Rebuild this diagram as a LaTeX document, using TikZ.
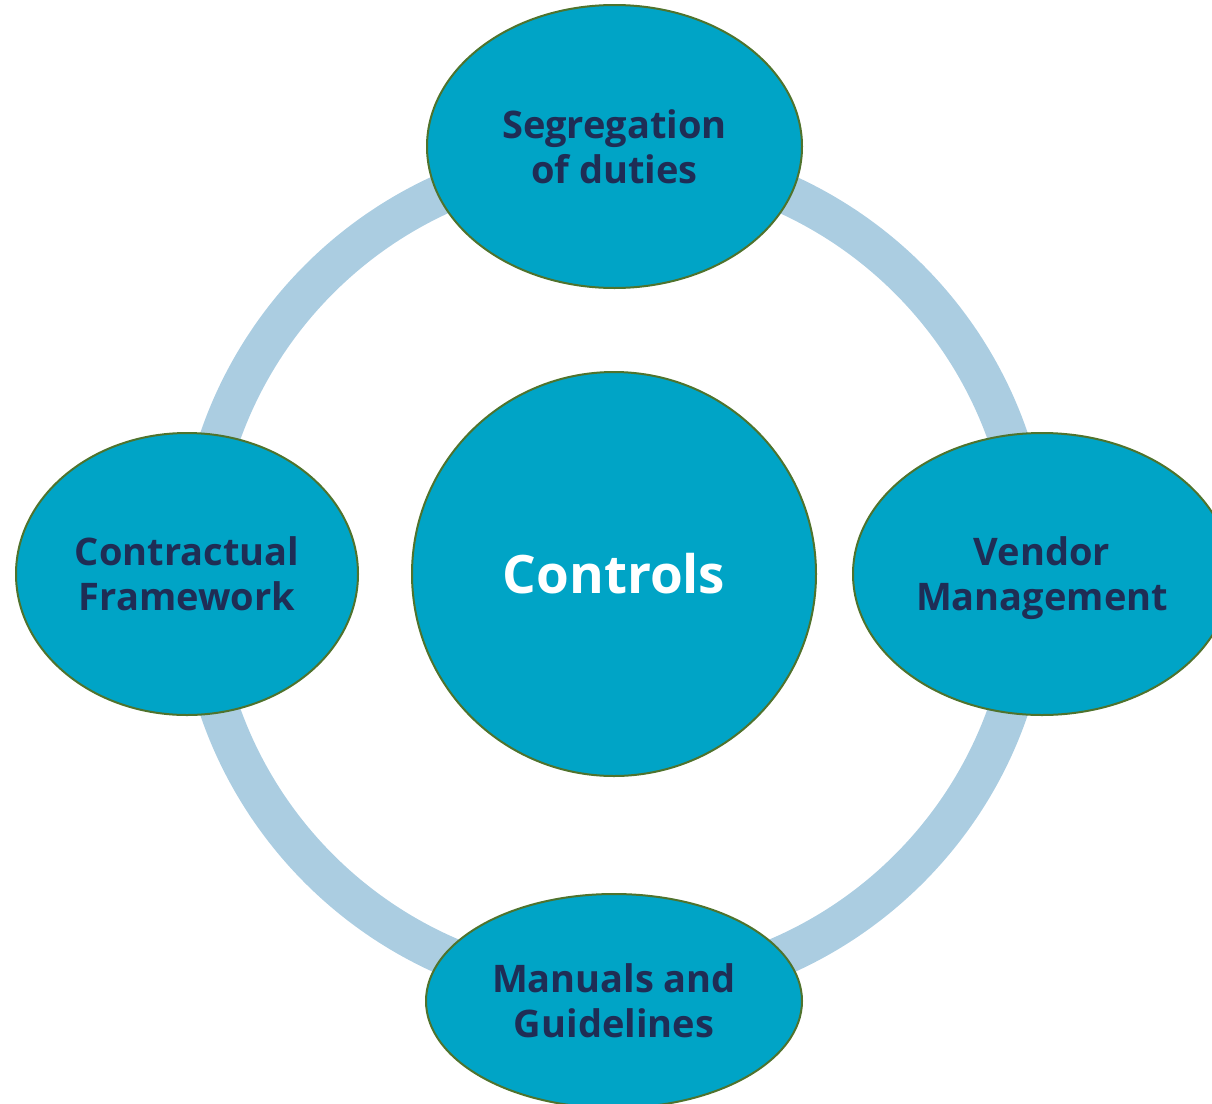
\documentclass[tikz,border=0pt]{standalone}
\usepackage{fontspec}
\setmainfont{Open Sans}
\usetikzlibrary{shapes.geometric}
\definecolor{ringblue}{RGB}{171,205,225}
\definecolor{tealfill}{RGB}{0,164,198}
\definecolor{olive}{RGB}{79,115,45}
\definecolor{navy}{RGB}{31,45,85}
\tikzset{
  bubble/.style={ellipse, draw=olive, line width=2pt, fill=tealfill, inner sep=0pt,
    align=center, text=navy, font=\fontsize{38}{45}\selectfont\bfseries},
  hub/.style={circle, draw=olive, line width=2pt, fill=tealfill, inner sep=0pt,
    minimum size=404pt, text=white, font=\fontsize{53}{60}\selectfont\bfseries},
  ring/.style={draw=ringblue, line width=40pt}
}
\begin{document}
\begin{tikzpicture}[x=1pt,y=-1pt]
\useasboundingbox (0,0) rectangle (1212,1103);
\clip (0,0) rectangle (1212,1103);
\coordinate (ringc) at (614,574);
\draw[ring] (ringc) circle[radius=417pt];
\node[hub] (controls) at (614,574) {Controls};
\node[bubble, minimum width=375pt, minimum height=283pt] (seg) at (614.5,146.5) {Segregation\\of duties};
\node[bubble, minimum width=342pt, minimum height=282pt] (contract) at (187,574) {Contractual\\Framework};
\node[bubble, minimum width=378pt, minimum height=282pt] (vendor) at (1042,574) {Vendor\\\raisebox{0pt}[\height][0pt]{Management}};
\node[bubble, minimum width=376pt, minimum height=214pt] (manuals) at (614,1001) {Manuals and\\Guidelines};
\end{tikzpicture}
\end{document}
